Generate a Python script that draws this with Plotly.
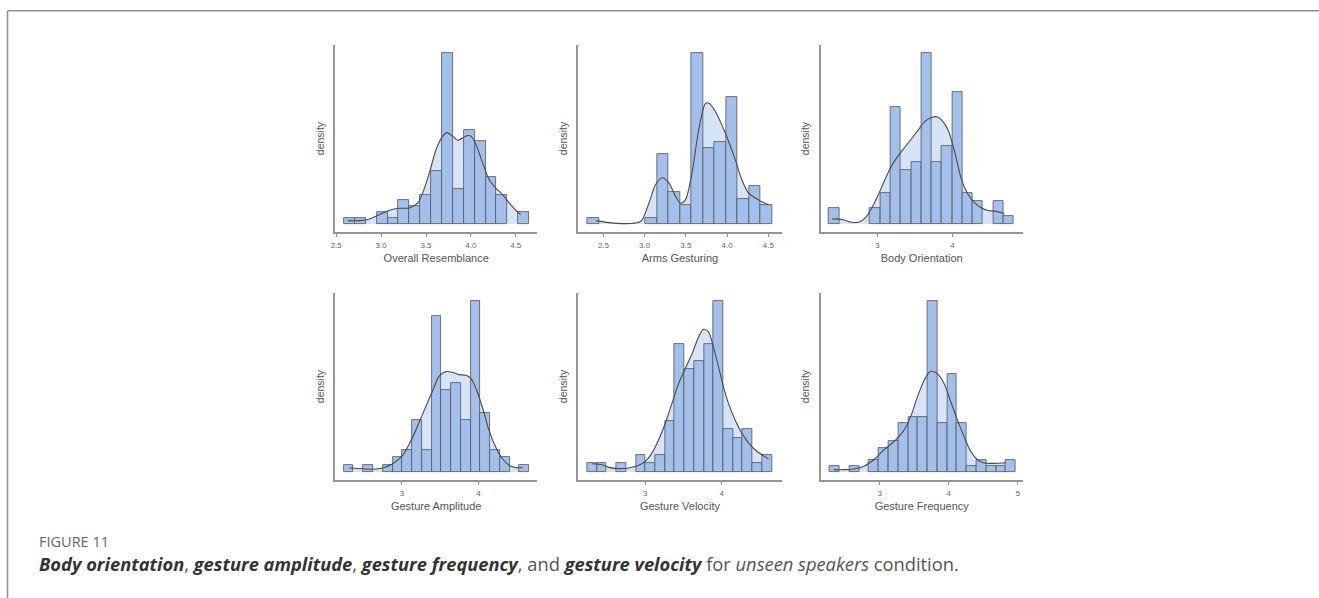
import plotly.graph_objects as go

# ---------------- data ----------------
titles = ["Overall Resemblance", "Arms Gesturing", "Body Orientation",
          "Gesture Amplitude", "Gesture Velocity", "Gesture Frequency"]

# histogram: first bin left edge, bin width, counts per bin
bin_start = [2.586, 2.307, 2.3495, 2.240, 2.240, 2.280]
bin_width = [0.1213, 0.140, 0.1372, 0.1274, 0.1270, 0.1414]
counts_or = [1, 1, 0, 2, 1, 4, 3, 5, 9, 29, 6, 16, 14, 8, 5, 0, 2]
counts_ag = [1, 0, 0, 0, 0, 1, 11, 5, 3, 27, 12, 13, 20, 4, 6, 3]
counts_bo = [2, 0, 0, 0, 2, 4, 15, 7, 8, 22, 8, 10, 17, 4, 3, 0, 3, 1]
counts_ga = [1, 0, 1, 0, 1, 2, 3, 7, 3, 21, 11, 12, 7, 23, 8, 3, 2, 0, 1]
counts_gv = [1, 1, 0, 1, 0, 2, 1, 2, 6, 15, 12, 13, 15, 20, 5, 4, 5, 1, 2]
counts_gf = [1, 0, 1, 0, 2, 4, 5, 8, 9, 9, 28, 8, 16, 8, 1, 2, 1, 1, 2]

# density curves (in the same count scale as the bars)
dens_x_or = [2.630, 2.760, 2.871, 2.982, 3.093, 3.204, 3.316, 3.408, 3.463, 3.538, 3.611, 3.686, 3.730,
             3.797, 3.852, 3.908, 3.963, 4.000, 4.056, 4.130, 4.204, 4.278, 4.352, 4.427, 4.500, 4.556]
dens_y_or = [0.57, 0.57, 0.85, 1.59, 2.32, 2.66, 2.72, 3.57, 5.27, 8.67, 12.6, 14.9, 15.5,
             14.9, 14.2, 14.6, 15.0, 14.9, 13.5, 10.4, 7.5, 6.1, 5.0, 3.57, 2.32, 1.59]
dens_x_ag = [2.407, 2.569, 2.769, 2.931, 2.971, 3.052, 3.132, 3.213, 3.293, 3.374, 3.434, 3.494,
             3.575, 3.656, 3.736, 3.776, 3.856, 3.977, 4.098, 4.179, 4.259, 4.380, 4.501]
dens_y_ag = [0.53, 0.21, 0.05, 0.26, 0.68, 3.3, 6.2, 7.3, 6.5, 4.4, 3.3, 3.8,
             8.1, 14.9, 19.0, 19.1, 17.8, 14.4, 10.2, 7.0, 4.9, 3.8, 3.05]
dens_x_bo = [2.394, 2.527, 2.659, 2.748, 2.836, 2.925, 3.013, 3.102, 3.190, 3.279, 3.367, 3.456, 3.544,
             3.633, 3.721, 3.788, 3.854, 3.942, 4.031, 4.119, 4.208, 4.296, 4.385, 4.473, 4.562, 4.695]
dens_y_bo = [0.65, 0.57, 0.22, 0.22, 0.78, 2.09, 3.83, 5.78, 7.52, 8.83, 9.91, 11.0, 12.1,
             13.2, 13.7, 13.8, 13.4, 12.1, 9.26, 5.78, 3.83, 2.74, 2.09, 1.74, 1.65, 1.35]
dens_x_ga = [2.314, 2.488, 2.618, 2.748, 2.879, 3.009, 3.140, 3.270, 3.400, 3.487, 3.574, 3.661,
             3.748, 3.835, 3.900, 3.965, 4.052, 4.139, 4.226, 4.313, 4.400, 4.487, 4.574]
dens_y_ga = [0.53, 0.44, 0.36, 0.53, 1.11, 2.22, 4.67, 7.78, 10.9, 12.9, 13.5, 13.4,
             13.1, 13.0, 12.6, 11.3, 8.67, 5.56, 3.33, 1.78, 0.89, 0.58, 0.58]
dens_x_gv = [2.305, 2.435, 2.522, 2.652, 2.783, 2.913, 3.000, 3.087, 3.174, 3.261, 3.348, 3.435, 3.522, 3.609,
             3.696, 3.761, 3.826, 3.891, 3.957, 4.022, 4.087, 4.174, 4.261, 4.348, 4.435, 4.522, 4.609]
dens_y_gv = [0.97, 0.85, 0.54, 0.39, 0.47, 0.78, 1.24, 2.21, 3.76, 5.70, 8.02, 10.35, 12.1, 13.8,
             15.8, 16.7, 16.4, 14.6, 12.3, 9.96, 8.02, 6.09, 4.55, 3.40, 2.60, 2.02, 1.55]
dens_x_gf = [2.338, 2.483, 2.628, 2.773, 2.917, 3.062, 3.207, 3.352, 3.449, 3.546, 3.643, 3.715,
             3.763, 3.836, 3.932, 4.029, 4.126, 4.222, 4.319, 4.416, 4.512, 4.657, 4.826]
dens_y_gf = [0.38, 0.38, 0.49, 0.92, 2.0, 3.62, 4.97, 6.86, 9.03, 12.3, 15.0, 16.3,
             16.5, 16.1, 14.5, 11.5, 8.49, 5.78, 3.35, 2.0, 1.46, 1.41, 1.51]

tick_vals = [[2.5, 3.0, 3.5, 4.0, 4.5], [2.5, 3.0, 3.5, 4.0, 4.5], [3, 4], [3, 4], [3, 4], [3, 4, 5]]
tick_text = [["2.5", "3.0", "3.5", "4.0", "4.5"], ["2.5", "3.0", "3.5", "4.0", "4.5"],
             ["3", "4"], ["3", "4"], ["3", "4"], ["3", "4", "5"]]

counts = [counts_or, counts_ag, counts_bo, counts_ga, counts_gv, counts_gf]
dens_x = [dens_x_or, dens_x_ag, dens_x_bo, dens_x_ga, dens_x_gv, dens_x_gf]
dens_y = [dens_y_or, dens_y_ag, dens_y_bo, dens_y_ga, dens_y_gv, dens_y_gf]

# ---------------- layout / style ----------------
W, H = 1319, 598
x_ranges = [[2.486, 4.741], [2.194, 4.662], [2.238, 4.942],
            [2.126, 4.769], [2.123, 4.782], [2.145, 5.072]]
col_px = [(332, 535), (576, 780), (819, 1022)]
row_px = [(45, 232), (293, 480)]

BAR = "#a3c0ec"
FILL = "#d7e3f6"
EDGE = "#555555"
AXIS = "#959595"
TXT = "#555555"
FONT = "Liberation Sans, Arial, sans-serif"

fig = go.Figure()
layout = dict(
    width=W, height=H, margin=dict(l=0, r=0, t=0, b=0),
    paper_bgcolor="white", plot_bgcolor="white",
    showlegend=False, bargap=0, barmode="overlay",
)

for i in range(6):
    r, c = divmod(i, 3)
    base = i + 1
    over = i + 7
    xb, yb = f"x{base}", f"y{base}"
    xo, yo = f"x{over}", f"y{over}"
    m = max(counts[i])
    yr = [-0.047 * m, 1.047 * m]
    centers = [bin_start[i] + (k + 0.5) * bin_width[i] for k in range(len(counts[i]))]
    vals = [v if v > 0 else None for v in counts[i]]

    # density area (behind bars)
    fig.add_trace(go.Scatter(x=dens_x[i], y=dens_y[i], mode="lines", fill="tozeroy",
                             fillcolor=FILL, line=dict(width=0, shape="spline", smoothing=0.8),
                             hoverinfo="skip", xaxis=xb, yaxis=yb))
    # histogram bars
    fig.add_trace(go.Bar(x=centers, y=vals, width=bin_width[i],
                         marker=dict(color=BAR, line=dict(color=EDGE, width=0.8)),
                         xaxis=xo, yaxis=yo))
    # density line
    fig.add_trace(go.Scatter(x=dens_x[i], y=dens_y[i], mode="lines",
                             line=dict(color="#4a4a4a", width=1.1, shape="spline", smoothing=0.8),
                             xaxis=xo, yaxis=yo))

    x0p, x1p = col_px[c]
    y0p, y1p = row_px[r]
    xdom = [x0p / W, x1p / W]
    ydom = [1 - y1p / H, 1 - y0p / H]
    sfx = "" if base == 1 else str(base)
    layout["xaxis" + sfx] = dict(
        domain=xdom, anchor=yb, range=x_ranges[i], showgrid=False, zeroline=False,
        showline=True, linecolor=AXIS, linewidth=1.5, ticks="outside", ticklen=3,
        tickwidth=1, tickcolor=AXIS, tickvals=tick_vals[i], ticktext=tick_text[i],
        tickfont=dict(family=FONT, size=8, color="#666666"), ticklabelstandoff=2,
        title=dict(text=titles[i], font=dict(family=FONT, size=11, color=TXT), standoff=5),
        fixedrange=True,
    )
    layout["yaxis" + sfx] = dict(
        domain=ydom, anchor=xb, range=yr, showgrid=False, zeroline=False,
        showline=True, linecolor=AXIS, linewidth=1.5, ticks="", showticklabels=False,
        title=dict(text="density", font=dict(family=FONT, size=10.5, color=TXT), standoff=7),
        fixedrange=True,
    )
    layout[f"xaxis{over}"] = dict(overlaying=xb, anchor=yo, range=x_ranges[i], visible=False,
                                  fixedrange=True)
    layout[f"yaxis{over}"] = dict(overlaying=yb, anchor=xo, range=yr, visible=False,
                                  fixedrange=True)

# frame lines (top and left)
layout["shapes"] = [
    dict(type="line", xref="paper", yref="paper", x0=3.5 / W, x1=1, y0=1 - 10.7 / H, y1=1 - 10.7 / H,
         line=dict(color="#939393", width=1.6)),
    dict(type="line", xref="paper", yref="paper", x0=3.5 / W, x1=3.5 / W, y0=1 - 10.7 / H, y1=0,
         line=dict(color="#939393", width=1.6)),
]

cap = ('<span style="color:#333333"><b><i>Body orientation</i></b></span>, '
       '<span style="color:#333333"><b><i>gesture amplitude</i></b></span>, '
       '<span style="color:#333333"><b><i>gesture frequency</i></b></span>, and '
       '<span style="color:#333333"><b><i>gesture velocity</i></b></span> for '
       '<i>unseen speakers</i> condition.')
layout["annotations"] = [
    dict(text="FIGURE 11", xref="paper", yref="paper", x=33 / W, y=1 - 541 / H,
         xanchor="left", yanchor="middle", showarrow=False,
         font=dict(family="Open Sans, sans-serif", size=14.5, color="#666666")),
    dict(text=cap, xref="paper", yref="paper", x=33 / W, y=1 - 563 / H,
         xanchor="left", yanchor="middle", showarrow=False,
         font=dict(family="Open Sans, sans-serif", size=18.3, color="#555555")),
]

fig.update_layout(**layout)
fig.write_html("out.html", config={"displayModeBar": False},
               post_script="document.body.style.margin='0';")
